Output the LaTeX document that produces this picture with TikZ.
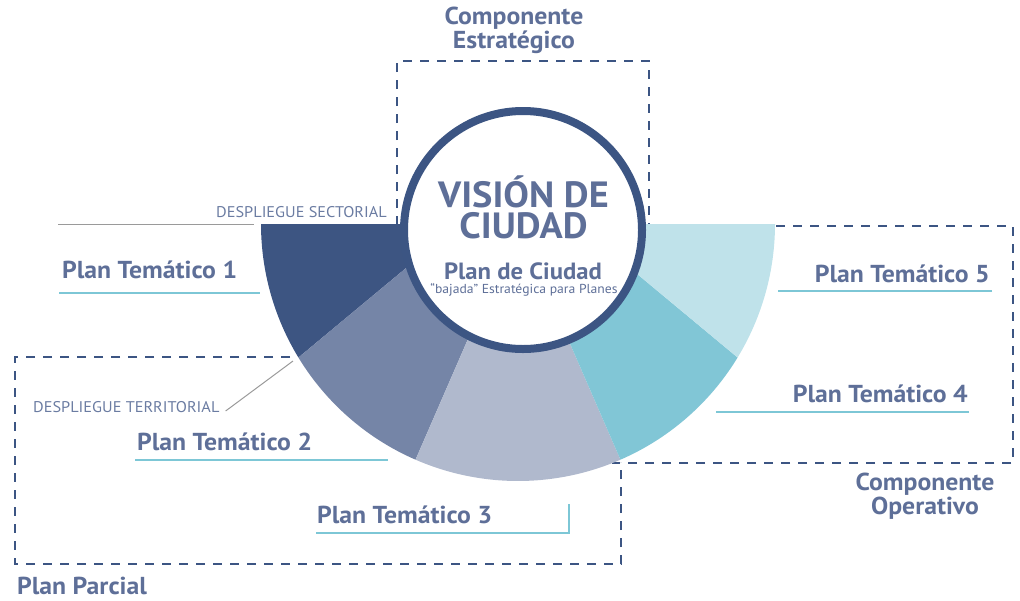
\documentclass[tikz,border=0pt]{standalone}
\usepackage{fontspec}
\setmainfont{PT Sans}[FakeStretch=1.05]
\definecolor{cNavy}{HTML}{3C5583}
\definecolor{cTxt}{HTML}{5E6F98}
\definecolor{cSmall}{HTML}{6B7CA2}
\definecolor{cSA}{HTML}{3D5582}
\definecolor{cSB}{HTML}{7585A7}
\definecolor{cSC}{HTML}{B0B9CD}
\definecolor{cSD}{HTML}{81C6D6}
\definecolor{cSE}{HTML}{BFE2EA}
\definecolor{cLine}{HTML}{7DC7D6}
\definecolor{cGray}{HTML}{9A9A9A}
\begin{document}
\begin{tikzpicture}[x=1pt,y=1pt,
  lbl/.style={inner sep=0pt, text=cTxt, font=\bfseries\fontsize{24.5}{26}\selectfont},
  small/.style={inner sep=0pt, text=cSmall, font=\fontsize{15.5}{18}\selectfont},
  pair/.style={lbl, align=center, font=\bfseries\fontsize{24.5}{21}\selectfont},
  big/.style={lbl, align=center, font=\bfseries\fontsize{36.5}{31}\selectfont},
  uline/.style={draw=cLine, line width=2.6pt},
  leader/.style={draw=cGray, line width=1pt},
  frame/.style={draw=cNavy, line width=2.6pt, dash pattern=on 9pt off 8pt},
]
\useasboundingbox (0,0) rectangle (1020,-600);

% dashed component frames (drawn first, the wheel covers their inner ends)
\draw[frame] (397,-225) -- (397,-61) -- (649,-61) -- (649,-225);
\draw[frame] (290,-357) -- (15,-357) -- (15,-564) -- (621,-564) -- (621,-462);
\draw[frame] (776,-226) -- (1013,-226) -- (1013,-463) -- (612,-463);

% half wheel of the five thematic plans
\coordinate (O) at (518,-224);
\coordinate (s1corner) at (261,-224);
\fill[cSA] (s1corner) arc[start angle=180,end angle=211.3,radius=257] coordinate (p12)
  -- (459,-224) -- cycle;
\fill[cSB] (p12) arc[start angle=211.3,end angle=246.5,radius=257] coordinate (p23)
  -- (O) -- (459,-224) -- cycle;
\fill[cSC] (p23) arc[start angle=246.5,end angle=293.5,radius=257] coordinate (p34)
  -- (O) -- cycle;
\fill[cSD] (p34) arc[start angle=293.5,end angle=328.7,radius=257] coordinate (p45)
  -- (577,-224) -- (O) -- cycle;
\fill[cSE] (p45) arc[start angle=328.7,end angle=360,radius=257]
  -- (577,-224) -- cycle;

% central vision circle
\node[circle, draw=cNavy, line width=8pt, fill=white, inner sep=0pt,
      minimum size=238pt] (vision) at (523,-230) {};
\node[big, anchor=base] (vis) at (523.5,-238) {VISIÓN DE\\CIUDAD};
\node[lbl, anchor=base, font=\bfseries\fontsize{23.5}{24}\selectfont] (plan) at (523,-279) {Plan de Ciudad};
\node[small, anchor=base, text=cTxt, font=\fontsize{13}{14}\selectfont] (bajada) at (524,-293) {“bajada” Estratégica para Planes};

% component titles
\node[pair, anchor=base] (ce) at (514,-48) {Componente\\Estratégico};
\node[pair, anchor=base] (co) at (925,-514) {Componente\\Operativo};
\node[lbl, anchor=base west] (parcial) at (17,-594) {Plan Parcial};

% deployment labels and their leaders
\node[small, anchor=base east] (dsect) at (387,-217) {DESPLIEGUE SECTORIAL};
\coordinate (sectStart) at (58,-224);
\draw[leader] (sectStart) -- ([xshift=-7pt]s1corner);
\node[small, anchor=base west] (dterr) at (33,-412) {DESPLIEGUE TERRITORIAL};
\coordinate (terrTip) at (293,-361);
\draw[leader] ([xshift=6pt,yshift=1pt]dterr.base east) -- (terrTip);

% thematic plan labels with underlines
\node[lbl, anchor=base west] (pt1) at (62,-278) {Plan Temático 1};
\draw[uline] ([xshift=-3pt,yshift=-15pt]pt1.base west) -- ++(201,0);
\node[lbl, anchor=base west] (pt2) at (137,-450) {Plan Temático 2};
\draw[uline] ([xshift=-2pt,yshift=-10pt]pt2.base west) -- ++(253,0);
\node[lbl, anchor=base west] (pt3) at (317,-523) {Plan Temático 3};
\draw[uline] ([xshift=-1pt,yshift=-10pt]pt3.base west) -- ++(253,0) -- ++(0,29);
\node[lbl, anchor=base east] (pt4) at (968,-402) {Plan Temático 4};
\draw[uline] ([xshift=1pt,yshift=-10pt]pt4.base east) -- ++(-253,0);
\node[lbl, anchor=base east] (pt5) at (990,-282) {Plan Temático 5};
\draw[uline] ([xshift=2pt,yshift=-9pt]pt5.base east) -- ++(-214,0);
\end{tikzpicture}
\end{document}
